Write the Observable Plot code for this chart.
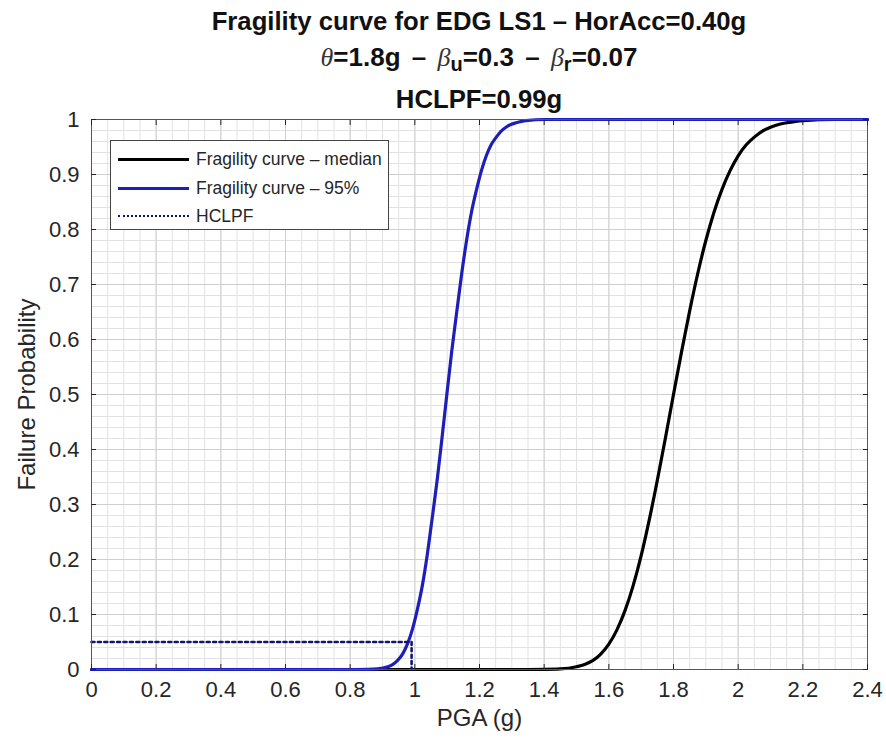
<!DOCTYPE html>
<html>
<head>
<meta charset="utf-8">
<script src="https://cdn.jsdelivr.net/npm/d3@7"></script>
<script src="https://cdn.jsdelivr.net/npm/@observablehq/plot@0.6"></script>
<style>
  body { margin: 0; background: #fff; font-family: "Liberation Sans", Arial, sans-serif; }
  #wrap { position: relative; width: 886px; height: 745px; overflow: hidden; background: #fff; }
  .t { position: absolute; left: 0; width: 958px; text-align: center; font-weight: bold; color: #111; font-size: 25.7px; line-height: 25px; white-space: nowrap; }
  #t2 { font-size: 26px; word-spacing: 4px; }
  .sym { font-family: "Liberation Serif", "DejaVu Serif", serif; font-style: italic; font-weight: normal; color: #333; }
  .t sub { font-size: 20px; position: relative; top: 5px; vertical-align: baseline; }
  #chart { position: absolute; left: 0; top: 95px; }
  #chart svg { background: none !important; }
  #legend { position: absolute; left: 110px; top: 140px; width: 277px; height: 88px; border: 1px solid #444; background: #fff; font-size: 17.5px; color: #262626; }
  .row { position: absolute; left: 7px; height: 20px; display: flex; align-items: center; white-space: nowrap; }
  .sw { width: 71px; height: 0; margin-right: 7px; }
</style>
</head>
<body>
<div id="wrap">
  <div id="chart"></div>
  <div class="t" id="t1" style="top:9px"></div>
  <div class="t" id="t2" style="top:45px"></div>
  <div class="t" id="t3" style="top:87px"></div>
  <div id="legend"></div>
</div>
<script>
// ---- data ----
const titleLine1 = "Fragility curve for EDG LS1 \u2013 HorAcc=0.40g";
const titleLine3 = "HCLPF=0.99g";
const xLabel = "PGA (g)";
const yLabel = "Failure Probability";
const seriesNames = ["Fragility curve \u2013 median", "Fragility curve \u2013 95%", "HCLPF"];
const seriesColors = ["#000000", "#1e1eb8", "#15156e"];

const xTicks = [0, 0.2, 0.4, 0.6, 0.8, 1, 1.2, 1.4, 1.6, 1.8, 2, 2.2, 2.4];
const yTicks = [0, 0.1, 0.2, 0.3, 0.4, 0.5, 0.6, 0.7, 0.8, 0.9, 1];

// median fragility curve
const medX = [0, 1.35, 1.4, 1.45, 1.5, 1.525, 1.55, 1.575, 1.6, 1.625, 1.65, 1.675, 1.7, 1.725, 1.75, 1.775, 1.8, 1.825, 1.85, 1.875, 1.9, 1.925, 1.95, 1.975, 2.0, 2.025, 2.05, 2.075, 2.1, 2.125, 2.15, 2.2, 2.3, 2.4];
const curveY = [0, 0, 0.0002, 0.001, 0.005, 0.009, 0.016, 0.028, 0.046, 0.072, 0.107, 0.152, 0.207, 0.272, 0.344, 0.421, 0.5, 0.578, 0.652, 0.72, 0.78, 0.831, 0.873, 0.907, 0.934, 0.954, 0.968, 0.979, 0.986, 0.991, 0.994, 0.998, 1.0, 1.0];
// 95% fragility curve
const p95X = [0, 0.82, 0.855, 0.885, 0.916, 0.931, 0.946, 0.962, 0.977, 0.992, 1.007, 1.023, 1.038, 1.053, 1.069, 1.084, 1.099, 1.114, 1.13, 1.145, 1.16, 1.175, 1.191, 1.206, 1.221, 1.236, 1.252, 1.267, 1.282, 1.297, 1.313, 1.343, 1.404, 2.4];
const p95Y = curveY;
// HCLPF marker
const hclpfX = [0, 0.99, 0.99];
const hclpfY = [0.05, 0.05, 0];

// ---- build ----
const med = medX.map((x, i) => ({x, y: curveY[i]}));
const p95 = p95X.map((x, i) => ({x, y: p95Y[i]}));
const hclpf = hclpfX.map((x, i) => ({x, y: hclpfY[i]}));

document.getElementById("t1").textContent = titleLine1;
document.getElementById("t2").innerHTML =
  '<span class="sym">\u03B8</span>=1.8g \u2013 <span class="sym">\u03B2</span><sub>u</sub>=0.3 \u2013 <span class="sym">\u03B2</span><sub>r</sub>=0.07';
document.getElementById("t3").textContent = titleLine3;

const fmt = d => String(+d.toFixed(2));
const axisColor = "#262626";
const chart = Plot.plot({
  width: 886,
  height: 650,
  marginLeft: 91,
  marginRight: 19,
  marginTop: 24,
  marginBottom: 76,
  style: {fontFamily: "'Liberation Sans', Arial, sans-serif", fontSize: "22px", color: axisColor, background: "none"},
  x: {domain: [0, 2.4]},
  y: {domain: [0, 1]},
  marks: [
    Plot.frame({fill: "#fff", stroke: "none"}),
    Plot.gridX(d3.range(0, 2.4001, 0.05), {stroke: "#e2e2e2", strokeOpacity: 1}),
    Plot.gridY(d3.range(0, 1.0001, 0.02), {stroke: "#e2e2e2", strokeOpacity: 1}),
    Plot.gridX(xTicks, {stroke: "#cfcfcf", strokeOpacity: 1}),
    Plot.gridY(yTicks, {stroke: "#cfcfcf", strokeOpacity: 1}),
    Plot.line(med, {x: "x", y: "y", stroke: seriesColors[0], strokeWidth: 3.2, curve: "monotone-x"}),
    Plot.line(p95, {x: "x", y: "y", stroke: seriesColors[1], strokeWidth: 3.2, curve: "monotone-x"}),
    Plot.line(hclpf, {x: "x", y: "y", stroke: seriesColors[2], strokeWidth: 2.6, strokeDasharray: "3,3.4"}),
    Plot.frame({stroke: "#555"}),
    Plot.axisX(xTicks, {anchor: "bottom", tickSize: 0, tickPadding: 12, tickFormat: fmt, label: xLabel, labelAnchor: "center", labelArrow: "none", labelOffset: 56, fill: axisColor, fontSize: 22}),
    Plot.axisX(xTicks, {anchor: "bottom", tickSize: -5, fill: "none", stroke: axisColor}),
    Plot.axisX(xTicks, {anchor: "top", tickSize: -5, fill: "none", stroke: axisColor}),
    Plot.axisY(yTicks, {anchor: "left", tickSize: 0, tickPadding: 12, tickFormat: fmt, label: yLabel, labelAnchor: "center", labelArrow: "none", labelOffset: 74, fill: axisColor, fontSize: 22}),
    Plot.axisY(yTicks, {anchor: "left", tickSize: -5, fill: "none", stroke: axisColor}),
    Plot.axisY(yTicks, {anchor: "right", tickSize: -5, fill: "none", stroke: axisColor})
  ]
});
document.getElementById("chart").appendChild(chart);
// larger axis titles
chart.querySelectorAll("text").forEach(t => {
  if (t.textContent === xLabel || t.textContent === yLabel) t.setAttribute("font-size", "24");
});

// legend
const lg = document.getElementById("legend");
const styles = ["border-top:3px solid " + seriesColors[0], "border-top:3px solid " + seriesColors[1], "border-top:2.5px dotted " + seriesColors[2]];
const tops = [8, 37, 65];
seriesNames.forEach((name, i) => {
  const row = document.createElement("div");
  row.className = "row";
  row.style.top = tops[i] + "px";
  row.innerHTML = '<div class="sw" style="' + styles[i] + '"></div><span>' + name + '</span>';
  lg.appendChild(row);
});
</script>
</body>
</html>
